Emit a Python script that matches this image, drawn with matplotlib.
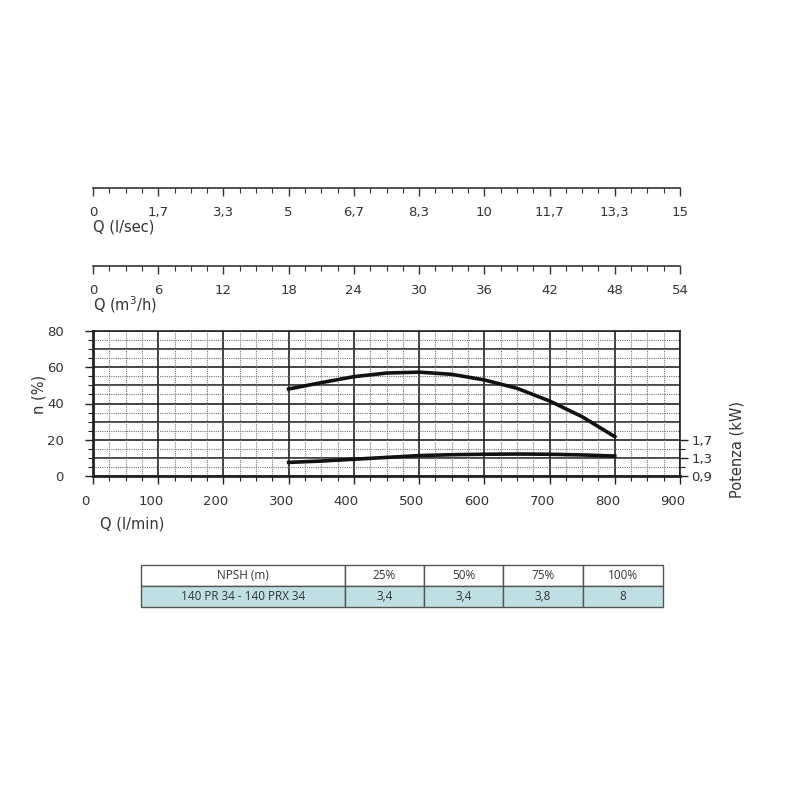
import matplotlib.pyplot as plt
import matplotlib.transforms as mtransforms
from matplotlib.ticker import MultipleLocator, FixedLocator

plt.rcParams['font.family'] = ['DejaVu Sans']

# portata in l/min
q_eff = [300, 350, 400, 450, 500, 550, 600, 650, 700, 750, 800]
eff = [48, 51.5, 54.8, 56.8, 57.3, 56.1, 53, 48.4, 41.4, 32.7, 21.7]
q_pow = [300, 350, 400, 450, 500, 550, 600, 650, 700, 750, 800]
pot = [1.20, 1.23, 1.27, 1.31, 1.35, 1.37, 1.38, 1.385, 1.38, 1.365, 1.34]

lsec_labels = ["0", "1,7", "3,3", "5", "6,7", "8,3", "10", "11,7", "13,3", "15"]
m3h_ticks = [0, 6, 12, 18, 24, 30, 36, 42, 48, 54]
kw_ticks = [0.9, 1.3, 1.7]
kw_labels = ["0,9", "1,3", "1,7"]

npsh_header = ["NPSH (m)", "25%", "50%", "75%", "100%"]
npsh_row = ["140 PR 34 - 140 PRX 34", "3,4", "3,4", "3,8", "8"]

txt = '#333333'
W = 800.0
L, R = 93 / W, 680 / W
fs_tick = 9.5
fs_lab = 10.5

fig = plt.figure(figsize=(8, 8), dpi=100)

# asse principale
ax = fig.add_axes([L, 1 - 476 / W, R - L, 145 / W])
ax.set_xlim(0, 900)
ax.set_ylim(0, 80)
ax.xaxis.set_major_locator(MultipleLocator(100))
ax.xaxis.set_minor_locator(MultipleLocator(25))
ax.yaxis.set_major_locator(MultipleLocator(20))
ax.yaxis.set_minor_locator(MultipleLocator(5))
ax.grid(which='minor', color='#777777', linestyle=(0, (1, 1)), linewidth=0.8)
for y in range(0, 81, 10):
    ax.axhline(y, color='#222222', linewidth=1.2, zorder=1)
for x in range(0, 901, 100):
    ax.axvline(x, color='#222222', linewidth=1.2, zorder=1)
ax.tick_params(which='major', direction='out', length=6, width=1, colors='#222222',
               labelcolor=txt, labelsize=fs_tick)
ax.tick_params(axis='y', which='major', pad=15)
ax.tick_params(axis='x', which='major', pad=8)
ax.tick_params(which='minor', direction='out', length=3.5, width=0.8, colors='#222222')
for s in ax.spines.values():
    s.set_color('#222222')
    s.set_linewidth(1.2)
ax.spines['left'].set_linewidth(2)
ax.spines['bottom'].set_linewidth(2)
shift = mtransforms.ScaledTranslation(-7.5 / 100, 0, fig.dpi_scale_trans)
for lab in ax.get_xticklabels():
    lab.set_transform(lab.get_transform() + shift)
ax.plot(q_eff, eff, color='#111111', linewidth=2.6, zorder=3)

ax2 = ax.twinx()
ax2.set_ylim(0.9, 0.9 + 0.04 * 80)
ax2.yaxis.set_major_locator(FixedLocator(kw_ticks))
ax2.yaxis.set_minor_locator(FixedLocator([1.1, 1.5]))
ax2.set_yticklabels(kw_labels)
ax2.tick_params(which='major', direction='out', length=6, width=1, colors='#222222',
                labelcolor=txt, labelsize=fs_tick, pad=2)
ax2.tick_params(which='minor', direction='out', length=3.5, width=0.8, colors='#222222')
for s in ax2.spines.values():
    s.set_visible(False)
ax2.plot(q_pow, pot, color='#111111', linewidth=2.6, zorder=3)

fig.text(100 / W, 1 - 524 / W, "Q (l/min)", color=txt, fontsize=fs_lab, va='center')
fig.text(39 / W, 1 - 394 / W, "n (%)", color=txt, fontsize=fs_lab, rotation=90,
         ha='center', va='center')
fig.text(737 / W, 1 - 450 / W, "Potenza (kW)", color=txt, fontsize=fs_lab,
         rotation=90, ha='center', va='center')


def scala(ypix, vmax, ticks, labels, minor, label):
    a = fig.add_axes([L, 1 - ypix / W, R - L, 0.0001])
    a.set_xlim(0, vmax)
    a.set_yticks([])
    for k in ['top', 'left', 'right']:
        a.spines[k].set_visible(False)
    a.spines['bottom'].set_color('#333333')
    a.spines['bottom'].set_linewidth(1.2)
    a.set_xticks(ticks)
    a.set_xticklabels(labels)
    a.xaxis.set_minor_locator(MultipleLocator(minor))
    a.tick_params(which='major', direction='out', length=6, width=1, colors='#333333',
                  labelcolor=txt, labelsize=fs_tick, pad=7)
    a.tick_params(which='minor', direction='out', length=3.5, width=0.8, colors='#333333')
    fig.text(L, 1 - (ypix + 39) / W, label, color=txt, fontsize=fs_lab, va='center')


scala(188, 15, [15 * i / 9 for i in range(10)], lsec_labels, 15 / 36, "Q (l/sec)")
scala(266, 54, m3h_ticks, [str(v) for v in m3h_ticks], 1.5, "Q (m$^3$/h)")

# tabella NPSH
tx = fig.add_axes([141 / W, 1 - 607 / W, 522 / W, 42 / W])
tx.axis('off')
widths = [204, 79, 79, 80, 80]
tot = float(sum(widths))
tab = tx.table(cellText=[npsh_header, npsh_row], cellLoc='center',
               colWidths=[w / tot for w in widths], bbox=[0, 0, 1, 1])
tab.auto_set_font_size(False)
for (r, c), cell in tab.get_celld().items():
    cell.set_edgecolor('#555555')
    cell.set_linewidth(1.0)
    cell.set_text_props(color=txt, fontsize=8.5, family='Open Sans')
    cell.set_facecolor('#bfdfe4' if r == 1 else 'white')

plt.savefig("out.png", dpi=100)
